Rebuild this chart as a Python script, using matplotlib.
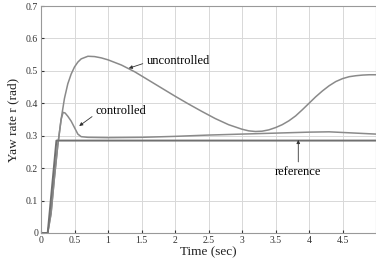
import numpy as np
import matplotlib
matplotlib.use('Agg')
import matplotlib.pyplot as plt

# values
t_unc = [0, 0.1, 0.15, 0.2, 0.25, 0.3, 0.35, 0.4, 0.45, 0.5, 0.55, 0.6, 0.7, 0.8, 0.9, 1.0,
         1.2, 1.4, 1.6, 1.8, 2.0, 2.2, 2.4, 2.6, 2.8, 3.0, 3.1, 3.2, 3.3, 3.4, 3.5, 3.6,
         3.7, 3.8, 3.9, 4.0, 4.1, 4.2, 4.3, 4.4, 4.5, 4.6, 4.7, 4.8, 4.9, 5.0]
r_unc = [0, 0, 0.06, 0.17, 0.27, 0.35, 0.415, 0.46, 0.49, 0.512, 0.527, 0.537, 0.545, 0.544,
         0.54, 0.534, 0.518, 0.497, 0.472, 0.447, 0.422, 0.398, 0.375, 0.353, 0.334, 0.32,
         0.315, 0.313, 0.314, 0.318, 0.325, 0.334, 0.346, 0.361, 0.38, 0.4, 0.42, 0.438,
         0.454, 0.467, 0.476, 0.482, 0.485, 0.487, 0.488, 0.488]

t_ctl = [0, 0.1, 0.15, 0.2, 0.25, 0.3, 0.33, 0.36, 0.4, 0.45, 0.5, 0.55, 0.6, 0.7, 1.0,
         1.5, 2.0, 2.5, 3.0, 3.5, 4.0, 4.3, 4.6, 5.0]
r_ctl = [0, 0, 0.06, 0.17, 0.27, 0.35, 0.372, 0.37, 0.36, 0.345, 0.325, 0.305, 0.297, 0.295,
         0.294, 0.295, 0.298, 0.302, 0.305, 0.308, 0.311, 0.312, 0.309, 0.305]

t_ref = [0, 0.1, 0.23, 5.0]
r_ref = [0, 0, 0.285, 0.285]

xticks = [0, 0.5, 1, 1.5, 2, 2.5, 3, 3.5, 4, 4.5]
xtick_labels = ['0', '0.5', '1', '1.5', '2', '2.5', '3', '3.5', '4', '4.5']
yticks = [0, 0.1, 0.2, 0.3, 0.4, 0.5, 0.6, 0.7]
ytick_labels = ['0', '0.1', '0.2', '0.3', '0.4', '0.5', '0.6', '0.7']

plt.rcParams['font.family'] = ['Liberation Serif', 'DejaVu Serif']

fig = plt.figure(figsize=(3.76, 2.64), dpi=100)
ax = fig.add_axes([41 / 376, 31 / 264, 335 / 376, 227 / 264])

ax.plot(t_unc, r_unc, color='#8a8a8a', lw=1.1)
ax.plot(t_ctl, r_ctl, color='#8a8a8a', lw=1.1)
ax.plot(t_ref, r_ref, color='#707070', lw=1.4)

ax.set_xlim(0, 5)
ax.set_ylim(0, 0.7)
ax.set_xticks(xticks)
ax.set_xticklabels(xtick_labels)
ax.set_yticks(yticks)
ax.set_yticklabels(ytick_labels)
ax.grid(True, color='#d8d8d8', lw=0.7)
ax.tick_params(labelsize=7, length=2, direction='in', colors='#333333', pad=2)
for s in ax.spines.values():
    s.set_color('#999999')
    s.set_linewidth(0.8)

ax.set_xlabel('Time (sec)', fontsize=9.5, labelpad=1, color='#222222')
ax.set_ylabel('Yaw rate r (rad)', fontsize=9.5, labelpad=5, color='#222222')

arrow = dict(arrowstyle='-|>', color='#333333', lw=0.6, mutation_scale=5,
             shrinkA=1, shrinkB=0)
ax.annotate('uncontrolled', xy=(1.31, 0.508), xytext=(1.58, 0.53), fontsize=9,
            ha='left', va='center', arrowprops=dict(arrow, relpos=(0, 0.4)))
ax.annotate('controlled', xy=(0.57, 0.33), xytext=(0.82, 0.375), fontsize=9,
            ha='left', va='center', arrowprops=dict(arrow, relpos=(0, 0.3)))
ax.annotate('reference', xy=(3.84, 0.287), xytext=(3.84, 0.188), fontsize=9,
            ha='center', va='center', arrowprops=dict(arrow, relpos=(0.5, 1)))

fig.savefig('out.png', dpi=100)
